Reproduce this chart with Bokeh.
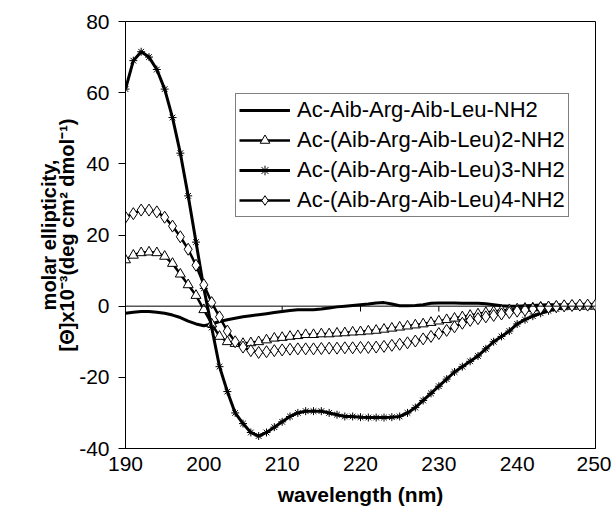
from bokeh.plotting import figure
from bokeh.models import Span, Legend, FixedTicker, LinearAxis
from bokeh.embed import file_html
from bokeh.resources import INLINE

wavelength = list(range(190, 251))

s1 = [-2.0, -1.7, -1.5, -1.5, -1.7, -2.0, -2.5, -3.2, -4.2, -5.0,
      -5.5, -5.0, -4.3, -3.8, -3.4, -3.0, -2.7, -2.4, -2.1, -1.8,
      -1.5, -1.2, -1.0, -1.0, -1.0, -0.8, -0.5, -0.2, 0.0, 0.2,
      0.4, 0.6, 0.9, 1.0, 0.6, 0.1, 0.1, 0.2, 0.4, 0.8,
      0.9, 0.9, 0.9, 0.8, 0.8, 0.8, 0.7, 0.4, 0.1, 0.0,
      0.0, 0.1, 0.2, 0.3, 0.4, 0.4, 0.4, 0.4, 0.4, 0.4, 0.4]

s2 = [13.0, 14.3, 15.0, 15.2, 15.0, 14.0, 12.0, 9.0, 6.0, 3.0,
      -1.0, -5.0, -8.5, -10.0, -10.5, -10.5, -10.3, -10.0, -9.5, -9.0,
      -8.8, -8.5, -8.3, -8.0, -8.0, -7.8, -7.8, -7.6, -7.5, -7.3,
      -7.2, -7.0, -6.8, -6.5, -6.2, -5.9, -5.6, -5.3, -5.0, -4.6,
      -4.2, -3.8, -3.4, -3.0, -2.6, -2.2, -1.8, -1.5, -1.2, -1.0,
      -0.8, -0.6, -0.5, -0.3, -0.2, -0.1, 0.0, 0.0, 0.0, 0.0, 0.0]

s3 = [61.0, 69.0, 71.5, 70.0, 66.5, 61.0, 53.0, 43.0, 31.0, 18.0,
      5.0, -6.0, -17.0, -24.0, -30.0, -33.0, -35.5, -36.5, -35.5, -34.0,
      -32.5, -31.0, -30.0, -29.5, -29.5, -29.5, -30.0, -30.5, -31.0, -31.0,
      -31.2, -31.3, -31.3, -31.3, -31.2, -31.0, -30.0, -28.5, -26.5, -24.5,
      -22.5, -20.5, -18.5, -17.0, -15.5, -14.0, -12.0, -10.0, -8.5, -7.0,
      -5.0, -3.8, -2.8, -2.0, -1.3, -0.8, -0.4, -0.1, 0.2, 0.3, 0.3]

s4 = [25.0, 26.0, 27.0, 27.0, 26.5, 25.0, 22.5, 19.5, 16.0, 11.5,
      6.0, 1.0, -3.0, -7.0, -10.0, -11.5, -12.5, -13.0, -12.8, -12.5,
      -12.3, -12.1, -12.0, -12.0, -12.0, -11.9, -11.8, -11.8, -11.7, -11.7,
      -11.6, -11.6, -11.5, -11.3, -11.0, -10.7, -10.3, -9.8, -9.2, -8.5,
      -7.7, -6.8, -5.8, -4.8, -4.0, -3.5, -3.0, -2.6, -2.2, -1.8,
      -1.4, -1.1, -0.8, -0.5, -0.3, -0.1, 0.1, 0.2, 0.3, 0.3, 0.3]

labels = ["Ac-Aib-Arg-Aib-Leu-NH2", "Ac-(Aib-Arg-Aib-Leu)2-NH2",
          "Ac-(Aib-Arg-Aib-Leu)3-NH2", "Ac-(Aib-Arg-Aib-Leu)4-NH2"]
x_ticks = [190, 200, 210, 220, 230, 240, 250]
y_ticks = [-40, -20, 0, 20, 40, 60, 80]
y_tick_text = {-40: "-40", -20: "-20"}
zero_line_ticks = [200, 210, 220, 230, 240]
x_title = "wavelength (nm)"
y_title_1 = "molar ellipticity,"
y_title_2 = "[\u0398]x10\u207b\u00b3(deg cm\u00b2 dmol\u207b\u00b9)"

FONT = "Liberation Sans"

p = figure(width=611, height=509, x_range=(190, 250), y_range=(-40, 80),
           output_backend="svg", toolbar_location=None,
           min_border_left=125, min_border_right=16, min_border_top=21,
           min_border_bottom=61)
p.background_fill_color = "white"
p.border_fill_color = "white"
p.outline_line_color = "black"
p.outline_line_width = 1
p.outline_line_alpha = 1
p.xgrid.visible = False
p.ygrid.visible = False

p.xaxis.ticker = FixedTicker(ticks=x_ticks)
p.yaxis.ticker = FixedTicker(ticks=y_ticks)
p.yaxis.major_label_overrides = y_tick_text
for ax in (p.xaxis, p.yaxis):
    ax.axis_line_color = "black"
    ax.major_tick_line_color = "black"
    ax.minor_tick_line_color = None
    ax.major_label_text_font = FONT
    ax.major_label_text_font_size = "21px"
    ax.major_label_text_color = "black"
    ax.major_tick_in = 0
    ax.axis_label_text_font = FONT
    ax.axis_label_text_font_style = "bold"
    ax.axis_label_text_font_size = "21px"
    ax.axis_label_text_color = "black"
p.yaxis.major_tick_out = 7
p.yaxis.major_label_standoff = 9
p.yaxis.axis_label = y_title_2
p.yaxis.axis_label_text_font_size = "20px"
p.yaxis.axis_label_standoff = -2
p.xaxis.major_tick_out = 0
p.xaxis.major_label_standoff = 8
p.xaxis.axis_label = x_title
p.xaxis.axis_label_standoff = 9

extra = LinearAxis(axis_label=y_title_1, ticker=FixedTicker(ticks=[]),
                   axis_line_color=None, major_tick_line_color=None,
                   minor_tick_line_color=None, major_tick_out=0,
                   major_label_standoff=0, major_label_text_font_size="0px",
                   axis_label_standoff=-6, axis_label_text_font=FONT,
                   axis_label_text_font_style="bold",
                   axis_label_text_font_size="20px",
                   axis_label_text_color="black")
p.add_layout(extra, "left")

p.add_layout(Span(location=0, dimension="width", line_color="black", line_width=1))
p.segment(x0=zero_line_ticks, y0=[0] * len(zero_line_ticks),
          x1=zero_line_ticks, y1=[-1.5] * len(zero_line_ticks),
          line_color="black", line_width=1)

r1 = p.line(wavelength, s1, line_color="black", line_width=3)
r2l = p.line(wavelength, s2, line_color="black", line_width=2.5)
r2m = p.scatter(wavelength, s2, marker="triangle", size=10, fill_color="white",
                line_color="black", line_width=1)
r3l = p.line(wavelength, s3, line_color="black", line_width=3)
r3m = p.scatter(wavelength, s3, marker="asterisk", size=8, line_color="black",
                line_width=1)
r4l = p.line(wavelength, s4, line_color="black", line_width=2.5)
r4m = p.scatter(wavelength, s4, marker="diamond", size=12, fill_color="white",
                line_color="black", line_width=1)

legend = Legend(items=[(labels[0], [r1]), (labels[1], [r2l, r2m]),
                       (labels[2], [r3l, r3m]), (labels[3], [r4l, r4m])],
                location=(110, 231), orientation="vertical")
legend.border_line_color = "black"
legend.border_line_width = 1.5
legend.background_fill_color = "white"
legend.background_fill_alpha = 1
legend.margin = 0
legend.padding = 3
legend.spacing = 4
legend.glyph_width = 51
legend.glyph_height = 24
legend.label_height = 24
legend.label_standoff = 7
legend.label_text_font = FONT
legend.label_text_font_size = "22px"
legend.label_text_color = "black"
p.add_layout(legend, "center")

open("out.html", "w").write(file_html(p, INLINE))
